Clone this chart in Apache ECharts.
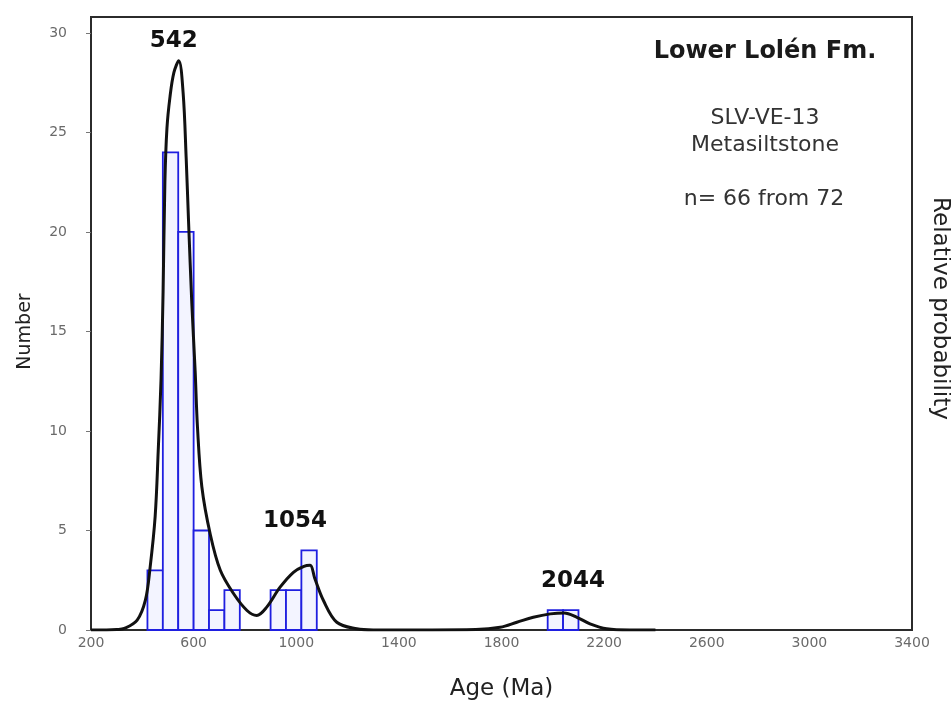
<!DOCTYPE html>
<html>
<head>
<meta charset="utf-8">
<script src="https://cdn.jsdelivr.net/npm/echarts@6/dist/echarts.min.js"></script>
<style>
  html, body { margin: 0; padding: 0; background: #fff; }
  #chart { width: 951px; height: 720px; }
</style>
</head>
<body>
<div id="chart"></div>
<script>
// Histogram bins (Ma) and zircon counts
const binLow  = [420, 480, 540, 600, 660, 720, 900, 960, 1020, 1980, 2040];
const binHigh = [480, 540, 600, 660, 720, 780, 960, 1020, 1080, 2040, 2100];
const counts  = [3, 24, 20, 5, 1, 2, 2, 2, 4, 1, 1];

// Probability density curve, scaled to the count axis
const pdpAge = [200, 260, 300, 330, 380, 412, 430, 450, 462, 473, 481, 488, 496, 508, 523,
                542, 559, 571, 580, 593, 606, 615, 632, 665, 704, 756, 808, 846, 885, 937,
                989, 1030, 1054, 1072, 1106, 1158, 1236, 1300, 1700, 1795, 1860, 1924, 1990,
                2044, 2094, 2145, 2210, 2300, 2400];
const pdpVal = [0, 0, 0.02, 0.08, 0.5, 1.5, 3.1, 5.7, 9.0, 12.6, 17.0, 22.5, 25.2, 26.8, 28.0,
                28.6, 27.0, 23.7, 20.6, 16.4, 13.0, 10.2, 7.2, 4.8, 3.0, 1.82, 0.98, 0.73, 1.15, 2.15,
                2.9, 3.2, 3.25, 2.6, 1.48, 0.39, 0.06, 0, 0.03, 0.14, 0.39, 0.64, 0.81,
                0.86, 0.64, 0.31, 0.06, 0, 0];

// Labelled peak ages
const peakAges = [542, 1054, 2044];
const peakVals = [28.6, 3.25, 0.86];
const peakOffsets = [[-5, 0], [-15, -25], [9, -12]];

const xTicks = [200, 600, 1000, 1400, 1800, 2200, 2600, 3000, 3400];
const yTicks = [0, 5, 10, 15, 20, 25, 30];

const FONT = '"DejaVu Sans", "Liberation Sans", sans-serif';

const chart = echarts.init(document.getElementById('chart'), null, { renderer: 'canvas' });

const barData = binLow.map((lo, i) => [lo, binHigh[i], counts[i]]);
const curveData = pdpAge.map((a, i) => [a, pdpVal[i]]);
const peakData = peakAges.map((a, i) => ({
  value: [a, peakVals[i]],
  label: { offset: peakOffsets[i] }
}));

chart.setOption({
  animation: false,
  backgroundColor: '#fff',
  grid: {
    left: 91, right: 39, top: 17, bottom: 90,
    outerBoundsMode: 'none',
    containLabel: false,
    show: true, borderColor: '#2b2b2b', borderWidth: 2, backgroundColor: '#fff'
  },
  xAxis: {
    type: 'value', min: 200, max: 3400, interval: 400,
    name: 'Age (Ma)', nameLocation: 'middle', nameGap: 48,
    nameTextStyle: { fontFamily: FONT, fontSize: 23, color: '#222' },
    axisLine: { show: false },
    axisTick: { show: false },
    splitLine: { show: false },
    axisLabel: {
      fontFamily: FONT, fontSize: 14, color: '#6a6a6a', margin: 6, customValues: xTicks,
      formatter: v => String(v)
    }
  },
  yAxis: [{
    type: 'value', min: 0, max: 30.8,
    name: 'Number', nameLocation: 'middle', nameGap: 56, nameRotate: 90,
    nameTextStyle: { fontFamily: FONT, fontSize: 19, color: '#222', padding: [0, 16, 0, 0] },
    axisLine: { show: false },
    axisTick: { show: true, inside: false, length: 5, lineStyle: { color: '#777' }, customValues: yTicks },
    splitLine: { show: false },
    axisLabel: {
      fontFamily: FONT, fontSize: 14, color: '#6a6a6a', margin: 24, customValues: yTicks,
      formatter: v => String(v)
    }
  }, {
    type: 'value', min: 0, max: 30.8, position: 'right',
    name: 'Relative probability', nameLocation: 'middle', nameGap: 16, nameRotate: -90,
    nameTextStyle: { fontFamily: FONT, fontSize: 23, color: '#222', padding: [0, 30, 0, 0] },
    axisLine: { show: false }, axisTick: { show: false },
    axisLabel: { show: false }, splitLine: { show: false }
  }],
  series: [{
    name: 'Histogram',
    type: 'custom',
    z: 2,
    encode: { x: [0, 1], y: 2 },
    data: barData,
    renderItem: function (params, api) {
      const p0 = api.coord([api.value(0), 0]);
      const p1 = api.coord([api.value(1), api.value(2)]);
      return {
        type: 'rect',
        shape: { x: p0[0], y: p1[1], width: p1[0] - p0[0], height: p0[1] - p1[1] },
        style: { fill: '#f3f4ff', stroke: '#1f1fe0', lineWidth: 1.8 }
      };
    }
  }, {
    name: 'Probability',
    type: 'line',
    z: 3,
    data: curveData,
    smooth: 0.35,
    symbol: 'none',
    lineStyle: { color: '#111', width: 3 }
  }, {
    name: 'Peaks',
    type: 'scatter',
    z: 4,
    symbolSize: 0,
    itemStyle: { opacity: 1 },
    data: peakData,
    label: {
      show: true, position: 'top', distance: 8, opacity: 1,
      fontFamily: FONT, fontSize: 23, fontWeight: 'bold', color: '#111',
      formatter: p => String(p.value[0])
    }
  }],
  graphic: [
    { type: 'text', x: 765, y: 52, style: { text: 'Lower Lolén Fm.', align: 'center', verticalAlign: 'middle', font: 'bold 24px ' + FONT, fill: '#1a1a1a' } },
    { type: 'text', x: 765, y: 118, style: { text: 'SLV-VE-13', align: 'center', verticalAlign: 'middle', font: '22px ' + FONT, fill: '#333' } },
    { type: 'text', x: 765, y: 145, style: { text: 'Metasiltstone', align: 'center', verticalAlign: 'middle', font: '22px ' + FONT, fill: '#333' } },
    { type: 'text', x: 764, y: 199, style: { text: 'n= 66 from 72', align: 'center', verticalAlign: 'middle', font: '22px ' + FONT, fill: '#333' } }
  ]
});
</script>
</body>
</html>
